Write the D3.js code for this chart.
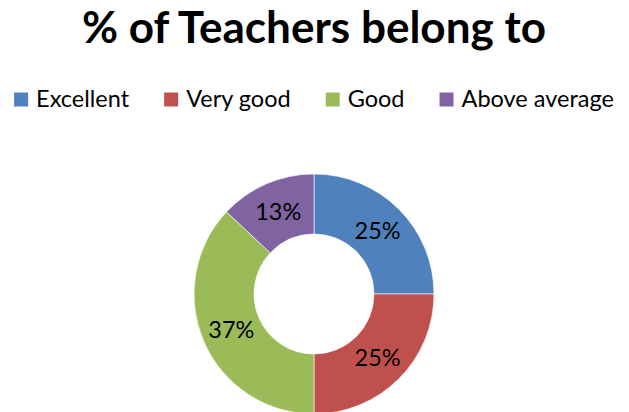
<!DOCTYPE html>
<html>
<head>
<meta charset="utf-8">
<script src="https://cdn.jsdelivr.net/npm/d3@7"></script>
<style>
  body { margin: 0; background: #fff; }
  text { font-family: Lato, "Open Sans", sans-serif; fill: #000; }
</style>
</head>
<body>
<div id="wrapper"></div>
<script>
const categories = ["Excellent", "Very good", "Good", "Above average"];
const percents = [25, 25, 37, 13];
const colors = ["#4F81BD", "#C0504D", "#9BBB59", "#8064A2"];
const title = "% of Teachers belong to";

function buildChart() {
    const width = 629, height = 412;
    const center = { x: 314, y: 294 };
    const outerR = 120, innerR = 60;

    const svg = d3.select("#wrapper").append("svg")
        .attr("width", width)
        .attr("height", height);

    // title, fitted to the width it has in the picture
    const t = svg.append("text")
        .attr("x", center.x)
        .attr("y", 43)
        .attr("text-anchor", "middle")
        .attr("font-weight", "bold")
        .attr("font-size", 43)
        .text(title);
    fitWidth(t, 464);

    // legend
    const legend = svg.append("g");
    const gap = 35;
    let x = 0;
    categories.forEach((c, i) => {
        const g = legend.append("g").attr("transform", `translate(${x},0)`);
        g.append("rect")
            .attr("x", 0).attr("y", 92.5)
            .attr("width", 14).attr("height", 14)
            .attr("fill", colors[i]);
        const lt = g.append("text")
            .attr("x", 22)
            .attr("y", 106.5)
            .attr("font-size", 23.5)
            .text(c);
        const w = lt.node().getComputedTextLength();
        x += 22 + w + gap;
    });
    const legendW = x - gap;
    legend.attr("transform", `translate(${center.x - legendW / 2},0)`);

    // donut
    const pie = d3.pie().sort(null).value(d => d)(percents);
    const arc = d3.arc().innerRadius(innerR).outerRadius(outerR);
    const labelArc = d3.arc().innerRadius(90).outerRadius(90);

    const donut = svg.append("g")
        .attr("transform", `translate(${center.x},${center.y})`);

    donut.selectAll("path")
        .data(pie)
        .join("path")
        .attr("d", arc)
        .attr("fill", (d, i) => colors[i])
        .attr("stroke", "#fff")
        .attr("stroke-width", 0.6);

    donut.selectAll("text")
        .data(pie)
        .join("text")
        .attr("x", d => labelArc.centroid(d)[0])
        .attr("y", d => labelArc.centroid(d)[1] + 8.5)
        .attr("text-anchor", "middle")
        .attr("font-size", 23.5)
        .text(d => d.data + "%");
}

function fitWidth(sel, target) {
    sel.attr("textLength", target).attr("lengthAdjust", "spacingAndGlyphs");
}

buildChart();
</script>
</body>
</html>
